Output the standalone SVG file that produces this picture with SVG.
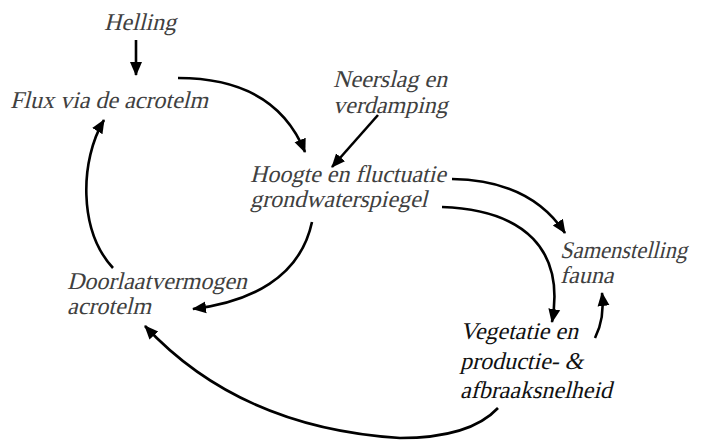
<svg xmlns="http://www.w3.org/2000/svg" width="701" height="441" viewBox="0 0 701 441">
<style>
.c{fill:none;stroke:#000;stroke-width:2.6}
text{font-family:"Liberation Serif","Times New Roman",serif;font-size:24px;fill:#404040}
.dark text{fill:#111}
</style>
<defs>
<marker id="ah" markerUnits="userSpaceOnUse" markerWidth="14" markerHeight="14" viewBox="0 0 14 14" refX="13" refY="7" orient="auto">
<path d="M0,1 L14,7 L0,13 Z" fill="#000"/>
</marker>
</defs>
<rect width="701" height="441" fill="#fff"/>
<g id="helling"><text transform="translate(104,30) skewX(-14)">Helling</text></g>
<g id="flux"><text transform="translate(10,108) skewX(-14)">Flux via de acrotelm</text></g>
<g id="neerslag"><text transform="translate(333,87) skewX(-14)">Neerslag en</text><text transform="translate(333,113) skewX(-14)">verdamping</text></g>
<g id="hoogte"><text transform="translate(250,182) skewX(-14)">Hoogte en fluctuatie</text><text transform="translate(250,207) skewX(-14)">grondwaterspiegel</text></g>
<g id="samenstelling"><text transform="translate(560,258) skewX(-14)" textLength="127" lengthAdjust="spacingAndGlyphs">Samenstelling</text><text transform="translate(560,283) skewX(-14)">fauna</text></g>
<g id="doorlaat"><text transform="translate(67,289) skewX(-14)">Doorlaatvermogen</text><text transform="translate(67,314) skewX(-14)">acrotelm</text></g>
<g id="vegetatie" class="dark"><text transform="translate(460,339) skewX(-14)">Vegetatie en</text><text transform="translate(460,369) skewX(-14)">productie- &amp;</text><text transform="translate(460,398) skewX(-14)">afbraaksnelheid</text></g>
<g id="connectors">
<path class="c" marker-end="url(#ah)" d="M136,40 L136,75"/>
<path class="c" marker-end="url(#ah)" d="M178,78 Q275,78 305,152"/>
<path class="c" marker-end="url(#ah)" d="M378,115 L332,167"/>
<path class="c" marker-end="url(#ah)" d="M452,179 Q530,180 565,233"/>
<path class="c" marker-end="url(#ah)" d="M442,207 C525,210 565,250 552,322"/>
<path class="c" marker-end="url(#ah)" d="M312,222 C300,278 250,302 193,309"/>
<path class="c" marker-end="url(#ah)" d="M113,268 C78,230 80,160 104,120"/>
<path class="c" marker-end="url(#ah)" d="M498,408 Q470,438 400,438 Q240,428 145,326"/>
<path class="c" marker-end="url(#ah)" d="M595,338 Q605,318 602,293"/>
</g>
</svg>
